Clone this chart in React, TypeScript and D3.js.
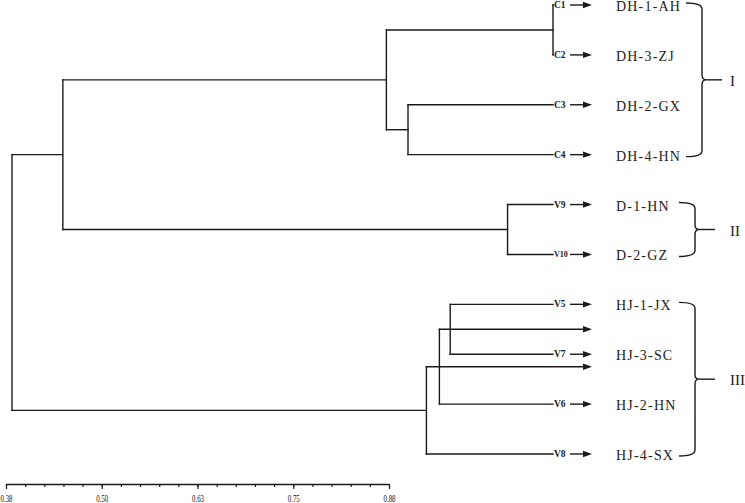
import * as d3 from 'd3';
import React, { useRef, useEffect } from 'react';

// leaves, top to bottom
const leafIds = ['C1', 'C2', 'C3', 'C4', 'V9', 'V10', 'V5', 'V7', 'V6', 'V8'];
const leafNames = ['DH-1-AH', 'DH-3-ZJ', 'DH-2-GX', 'DH-4-HN', 'D-1-HN', 'D-2-GZ', 'HJ-1-JX', 'HJ-3-SC', 'HJ-2-HN', 'HJ-4-SX'];

// [node, left child, right child, similarity]
const merges: [string, string, string, number][] = [
  ['n1', 'C1', 'C2', 0.875],
  ['n2', 'C3', 'C4', 0.741],
  ['n3', 'n1', 'n2', 0.721],
  ['n4', 'V9', 'V10', 0.833],
  ['n5', 'n3', 'n4', 0.422],
  ['n6', 'V5', 'V7', 0.780],
  ['n7', 'n6', 'V6', 0.770],
  ['n8', 'n7', 'V8', 0.758],
  ['root', 'n5', 'n8', 0.375],
];
const leafSimilarity = 0.875;

// internal nodes whose branch runs on out to an arrow
const strayArrowNodes = ['n6', 'n7'];

// groups marked with braces
const groupNames = ['I', 'II', 'III'];
const groupFirst = ['C1', 'V9', 'V5'];
const groupLast = ['C4', 'V10', 'V8'];

// axis
const majorTicks = [0.375, 0.5, 0.625, 0.75, 0.875];
const minorTicks = d3.range(0, 21).map((i) => 0.375 + i * 0.025);

const W = 745;
const H = 503;
const INK = '#1a1a1a';
const braceX = [702, 695, 695];

const treeX = d3.scaleLinear().domain([0.375, 0.875]).range([12, 553]);
const axisX = d3.scaleLinear().domain([0.375, 0.875]).range([6, 389]);
const leafY = d3.scalePoint<string>().domain(leafIds).range([5, 454]);

const ARROW_START = 570;
const ARROW_END = 592;
const NAME_X = 616;

function Arrow({ x1, x2, y }: { x1: number; x2: number; y: number }) {
  return (
    <g>
      <line x1={x1} x2={x2 - 7} y1={y} y2={y} stroke={INK} strokeWidth={1.4} />
      <path d={`M${x2 - 9},${y - 3.2}L${x2},${y}L${x2 - 9},${y + 3.2}Z`} fill={INK} />
    </g>
  );
}

export default function App() {
  const axisRef = useRef<SVGGElement>(null);

  useEffect(() => {
    const g = d3.select(axisRef.current);
    g.selectAll('*').remove();

    // minor ticks
    g.append('g')
      .call(d3.axisBottom(axisX).tickValues(minorTicks).tickSize(3).tickSizeOuter(0).tickFormat(() => ''))
      .call((s) => s.select('.domain').remove());

    // major ticks + labels
    const major = g.append('g')
      .call(d3.axisBottom(axisX).tickValues(majorTicks).tickSize(5).tickSizeOuter(0).tickFormat(d3.format('.2f')));

    g.selectAll('line').attr('stroke', INK).attr('stroke-width', 1.2);
    major.select('.domain').attr('stroke', INK).attr('stroke-width', 1.4);
    major.selectAll('text')
      .attr('y', 11)
      .attr('fill', '#111')
      .attr('font-family', "'Liberation Serif', serif")
      .attr('font-size', 10)
      .attr('textLength', 12)
      .attr('lengthAdjust', 'spacingAndGlyphs');
  }, []);

  // node positions
  const pos: Record<string, { x: number; y: number }> = {};
  leafIds.forEach((id) => {
    pos[id] = { x: treeX(leafSimilarity), y: leafY(id) as number };
  });
  merges.forEach(([id, a, b, h]) => {
    pos[id] = { x: treeX(h), y: (pos[a].y + pos[b].y) / 2 };
  });

  const branches: React.ReactNode[] = [];
  merges.forEach(([id, a, b]) => {
    const p = pos[id];
    branches.push(
      <line key={id + 'v'} x1={p.x} x2={p.x} y1={pos[a].y} y2={pos[b].y} stroke={INK} strokeWidth={1.4} />
    );
    [a, b].forEach((c) => {
      if (strayArrowNodes.includes(c)) {
        branches.push(<Arrow key={id + c} x1={p.x} x2={ARROW_END} y={pos[c].y} />);
      } else {
        branches.push(
          <line key={id + c} x1={p.x} x2={pos[c].x} y1={pos[c].y} y2={pos[c].y} stroke={INK} strokeWidth={1.4} />
        );
      }
    });
  });

  return (
    <svg width={W} height={H} style={{ position: 'absolute', left: 0, top: 0, background: '#fff' }}>
      <g strokeLinecap="square">{branches}</g>

      {leafIds.map((id, i) => {
        const y = leafY(id) as number;
        return (
          <g key={id}>
            <text
              x={treeX(leafSimilarity) + 1}
              y={y}
              dominantBaseline="central"
              fontFamily="'Liberation Serif', serif"
              fontWeight="bold"
              fontSize={id.length > 2 ? 8 : 9.5}
              fill={INK}
            >
              {id}
            </text>
            <Arrow x1={ARROW_START} x2={ARROW_END} y={y} />
            <text
              x={NAME_X}
              y={y + 1.5}
              dominantBaseline="central"
              fontFamily="'Liberation Serif', serif"
              fontSize={14}
              letterSpacing={1.2}
              fill="#222"
            >
              {leafNames[i]}
            </text>
          </g>
        );
      })}

      {groupNames.map((name, i) => {
        const y0 = (leafY(groupFirst[i]) as number) - 2;
        const y1 = (leafY(groupLast[i]) as number) + 2;
        const ym = (y0 + y1) / 2;
        const bx = braceX[i];
        const hx = bx - 16;
        const d = `M${hx},${y0}Q${bx},${y0} ${bx},${y0 + 6}L${bx},${ym - 5}Q${bx},${ym} ${bx + 4},${ym}` +
          `Q${bx},${ym} ${bx},${ym + 5}L${bx},${y1 - 6}Q${bx},${y1} ${hx},${y1}`;
        return (
          <g key={name}>
            <path d={d} fill="none" stroke={INK} strokeWidth={1.4} />
            <line x1={bx + 4} x2={bx + 20} y1={ym} y2={ym} stroke={INK} strokeWidth={1.4} />
            <text
              x={730}
              y={ym + 1}
              dominantBaseline="central"
              fontFamily="'Liberation Serif', serif"
              fontSize={15}
              fill="#222"
            >
              {name}
            </text>
          </g>
        );
      })}

      <g ref={axisRef} transform="translate(0,484)" />
    </svg>
  );
}
